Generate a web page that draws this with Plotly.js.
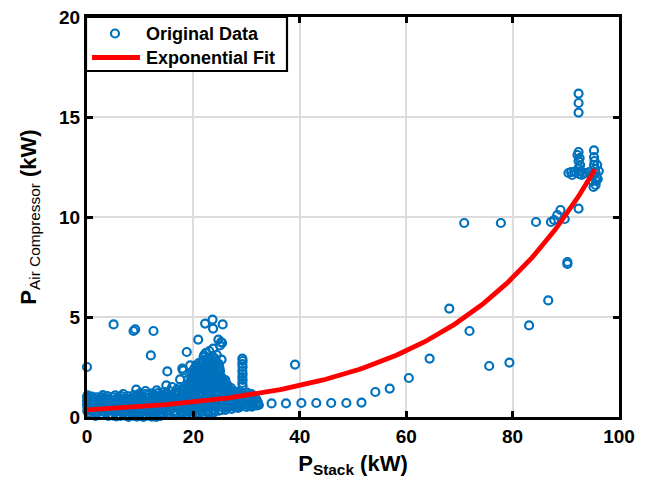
<!DOCTYPE html>
<html>
<head>
<meta charset="utf-8">
<script src="https://cdn.plot.ly/plotly-3.0.1.min.js"></script>
<style>html,body{margin:0;padding:0;background:#fff;}#chart{width:648px;height:489px;}</style>
</head>
<body>
<div id="chart"></div>
<script>
// ---- Data ----
// low band, P_Stack 0-16 kW
const lowX = [0.1,0.2,0.5,1.3,2.2,3.2,4.7,5.9,7.0,8.3,9.4,10.5,11.6,12.8,13.9,15.0,15.8,
  0.2,0.9,1.8,2.6,3.4,4.2,5.0,5.8,6.6,7.4,8.2,9.0,9.8,10.6,11.4,12.2,13.0,13.8,14.6,15.4,16.2,
  0.1,0.6,1.4,2.2,3.0,3.8,4.6,5.4,6.2,7.0,7.8,8.6,9.4,10.2,11.0,11.8,12.6,13.4,14.2,15.0,15.8,
  0.3,1.8,3.5,4.4,5.2,6.0,6.8,7.6,8.4,9.2,10.0,10.8,11.6,12.4,13.2,14.0,14.8,15.6,
  7.8,8.6,9.4,10.0,10.6,11.4,12.2,13.0,13.8,4.0,5.5,
  0,0,0,0.05,3.0,6.8,10.0,11.0,16.0];
const lowY = [1.08,0.85,0.95,0.9,0.82,0.92,1.0,1.0,0.9,0.95,1.05,0.98,1.1,1.05,1.12,1.18,1.05,
  0.65,0.7,0.62,0.72,0.66,0.74,0.68,0.75,0.7,0.78,0.72,0.8,0.74,0.82,0.76,0.84,0.8,0.88,0.85,0.9,0.88,
  0.42,0.38,0.45,0.4,0.48,0.42,0.5,0.44,0.52,0.46,0.54,0.48,0.56,0.5,0.58,0.52,0.6,0.55,0.62,0.58,0.65,
  0.2,0.18,0.2,0.15,0.22,0.14,0.2,0.12,0.18,0.1,0.16,0.12,0.2,0.15,0.22,0.2,0.28,0.3,
  0.0,-0.05,0.02,-0.1,0.0,-0.03,0.02,0.0,0.05,0.05,0.03,
  0.6,0.8,1.0,0.3,1.1,1.15,1.2,1.3,1.5];
const lowX2 = [0.6,1.5,2.4,3.3,4.2,5.1,6.0,6.9,7.8,8.7,9.6,10.5,11.4,12.3,13.2,14.1,15.0,
  0.4,1.2,2.0,2.8,3.6,4.4,5.2,6.0,6.8,7.6,8.4,9.2,10.0,10.8,11.6,12.4,13.2,14.0,14.8,15.6,
  0.9,2.0,3.0,3.9,4.8,5.7,6.6,7.5,8.4,9.3,10.2,11.1,12.0,12.9,13.8,14.7,15.5];
const lowY2 = [0.82,0.78,0.88,0.8,0.86,0.84,0.9,0.82,0.88,0.86,0.92,0.9,0.95,0.92,0.98,1.0,1.02,
  0.55,0.52,0.58,0.54,0.6,0.56,0.62,0.58,0.63,0.6,0.65,0.62,0.66,0.64,0.7,0.67,0.72,0.7,0.75,0.78,
  0.3,0.28,0.32,0.3,0.34,0.3,0.36,0.32,0.35,0.3,0.34,0.33,0.38,0.4,0.42,0.45,0.48];
const lowX3 = [0.8,1.6,2.7,4.8,6.3,7.1,8.0,8.9,9.8,10.4,11.0,11.9,12.7,13.5,14.4,15.2,
  0.9,1.8,2.7,3.8,5.3,6.4,7.6,8.8,10.0,11.1,12.3,13.4,14.5,15.5];
const lowY3 = [0.1,0.05,0.12,0.08,0.05,0.08,0.1,0.05,0.08,0.1,0.05,0.06,0.1,0.12,0.15,0.18,
  1.02,0.98,1.0,1.05,1.08,1.05,1.05,1.1,1.08,1.15,1.18,1.2,1.25,1.3];
// scattered points above the low band
const outlierX = [5.0,8.75,9.06,12.5,12.0,0,15.1,9.25,14.9,13.1,16.9,17.5,17.9,18.75];
const outlierY = [4.63,4.3,4.38,4.3,3.08,2.5,2.28,1.37,1.58,1.33,1.37,1.88,2.42,3.25];
// dense cluster, P_Stack 16-32 kW
const midX = [16.5,17.3,18.1,18.9,19.7,20.5,21.3,22.1,22.9,23.7,24.5,25.3,26.1,26.9,27.7,28.5,29.3,30.1,30.9,
  16.6,17.4,18.2,19.0,19.8,20.6,21.4,22.2,23.0,23.8,24.6,25.4,26.2,27.0,27.8,28.6,29.4,30.2,31.0,31.8,
  16.5,17.3,18.1,18.9,19.7,20.5,21.3,22.1,22.9,23.7,24.5,25.3,26.1,26.9,27.7,28.5,29.3,30.1,30.9,31.7,32.0,
  16.4,17.6,18.8,20.0,21.2,22.4,23.6,24.8,26.0,27.2,28.4,
  19.2,20.0,20.8,21.6,22.4,23.2,24.0,24.8,25.6,26.4,
  19.6,20.4,21.2,22.0,22.8,23.6,24.4,25.2,
  20.1,20.9,21.7,22.5,23.3,24.1,24.9,
  21.0,21.8,22.6,23.4,24.2,
  22.2,23.6,23.7,25.5,20.9,24.7,25.2,25.0,23.7,25.4,21.9,22.0,25.3,19.4,18.1,22.3,23.0,24.4,
  29.2,29.25,29.2,29.25,29.2,29.25,29.2,29.25,29.2,29.25,
  28.4,30.5,31.2,31.9,32.3];
const midY = [1.2,1.25,1.3,1.28,1.35,1.3,1.4,1.35,1.42,1.38,1.45,1.4,1.35,1.3,1.28,1.25,1.2,1.22,1.15,
  0.95,0.9,1.0,0.95,1.02,0.98,1.05,1.0,1.08,1.02,1.1,1.05,1.0,1.05,0.98,1.0,0.95,1.0,0.92,0.9,
  0.55,0.6,0.52,0.62,0.55,0.65,0.58,0.68,0.6,0.7,0.62,0.7,0.64,0.7,0.62,0.58,0.66,0.6,0.62,0.6,0.65,
  0.3,0.25,0.32,0.28,0.35,0.3,0.38,0.32,0.36,0.4,0.45,
  1.7,1.65,1.75,1.7,1.8,1.72,1.82,1.75,1.68,1.6,
  2.0,2.1,2.05,2.15,2.08,2.2,2.1,2.02,
  2.4,2.45,2.38,2.5,2.42,2.55,2.45,
  2.7,2.8,2.75,2.85,2.78,
  4.67,4.87,4.42,4.63,3.87,3.87,3.75,3.58,3.42,3.7,3.0,3.08,2.87,2.58,2.33,3.2,3.3,3.1,
  2.92,2.8,2.65,2.5,2.3,2.15,2.0,1.85,1.7,1.55,
  0.58,0.55,0.62,0.58,0.6];
const midX2 = [16.9,17.7,18.5,19.3,20.1,20.9,21.7,22.5,23.3,24.1,24.9,25.7,26.5,27.3,28.1,28.9,29.7,30.5,31.3,
  16.9,17.7,18.5,19.3,20.1,20.9,21.7,22.5,23.3,24.1,24.9,25.7,26.5,27.3,28.1,28.9,29.7,30.5,31.3,32.1,
  17.0,18.2,19.4,20.6,21.8,23.0,24.2,25.4,26.6,27.8,
  16.8,17.8,18.8,19.8,20.8,21.8,22.8,23.8,
  17.5,18.3,19.1,19.9,20.7,21.5,22.3,23.1,23.9,24.7,25.5,26.3,27.1,
  19.0,19.8,20.6,21.4,22.2,23.0,23.8,24.6,25.4,26.0,
  19.8,20.6,21.4,22.2,23.0,23.8,24.6,
  20.5,21.3,22.1,22.9,23.7,24.5,
  22.8,23.6,24.0];
const midY2 = [1.1,1.08,1.15,1.12,1.18,1.15,1.2,1.18,1.22,1.2,1.25,1.2,1.18,1.15,1.12,1.1,1.08,1.1,1.05,
  0.78,0.75,0.8,0.78,0.82,0.8,0.85,0.82,0.86,0.84,0.88,0.85,0.82,0.84,0.8,0.8,0.78,0.8,0.76,0.75,
  0.45,0.42,0.48,0.45,0.5,0.48,0.52,0.5,0.52,0.55,
  0.12,0.1,0.15,0.12,0.18,0.15,0.2,0.22,
  1.5,1.52,1.55,1.5,1.58,1.55,1.6,1.55,1.62,1.58,1.55,1.5,1.45,
  1.88,1.9,1.95,1.9,1.98,1.92,2.0,1.95,1.9,1.85,
  2.22,2.25,2.28,2.3,2.25,2.35,2.28,
  2.58,2.62,2.6,2.65,2.68,2.6,
  2.95,3.0,2.92];
const midX3 = [16.9,18.0,19.2,20.4,21.6,22.8,24.0,25.2,26.4,27.6,28.8,30.0,31.0,
  17.0,18.5,19.9,21.0,22.5,23.9,25.0,26.5,28.0,29.5,31.2,
  18.0,19.5,20.3,21.1,21.9,22.7,23.5,24.3,25.1,25.9,26.7,
  19.6,20.4,21.2,22.0,22.8,23.6,24.4,25.2,26.0,
  20.2,21.0,21.8,22.6,23.4,24.2,25.0,20.6,22.0,23.1,24.8,21.5,22.5,23.9];
const midY3 = [0.22,0.2,0.25,0.2,0.25,0.28,0.3,0.35,0.45,0.5,0.5,0.5,0.52,
  0.68,0.7,0.72,0.7,0.75,0.76,0.74,0.74,0.72,0.7,0.7,
  1.4,1.45,1.48,1.5,1.48,1.52,1.5,1.55,1.5,1.45,1.4,
  1.8,1.82,1.85,1.9,1.85,1.9,1.92,1.8,1.75,
  2.2,2.3,2.2,2.35,2.3,2.4,2.3,2.55,2.5,2.55,2.65,2.65,2.9,2.95];
// sparse points, P_Stack 34-92 kW
const sparseX = [34.7,37.4,40.3,43.1,45.9,48.75,51.6,39.1,54.2,56.9,60.5,64.4,68.1,71.9,70.9,75.6,77.8,79.4,83.1,84.4,86.7,87.2,87.8,88.4,89.0,89.8,90.3,90.3,92.4];
const sparseY = [0.68,0.68,0.7,0.7,0.7,0.7,0.72,2.62,1.25,1.42,1.95,2.92,5.42,4.3,9.7,2.55,9.7,2.72,4.58,9.75,5.83,9.75,9.85,10.1,10.35,9.9,7.75,7.65,10.42];
// high-power cluster, P_Stack 90-96 kW
const highX = [92.4,92.4,92.4,92.4,92.2,92.6,92.4,92.7,92.4,92.8,92.5,93.0,93.3,91.6,91.0,90.5,91.2,93.8,94.4,
  95.3,95.3,95.4,95.3,95.5,95.6,95.8,95.7,95.6,95.2,96.0,95.9,96.2,94.9,95.0];
const highY = [16.17,15.7,15.22,13.25,13.1,12.95,12.8,12.6,12.45,12.3,12.15,12.1,12.2,12.25,12.25,12.2,12.1,12.2,12.25,
  13.33,13.0,12.8,12.6,12.4,12.2,12.0,11.8,11.6,11.5,11.9,12.6,12.3,12.1,11.8];
// exponential fit  y = a*exp(b*x), drawn over P_Stack 0..95.5
const fitA = 0.355;
const fitB = 0.0372;
const fitRange = [0, 95.5];
const xTicks = [0,20,40,60,80,100];
const yTicks = [0,5,10,15,20];
const legendLabels = ['Original Data', 'Exponential Fit'];

// ---- build ----
const dataX = [].concat(lowX, lowX2, lowX3, outlierX, midX, midX2, midX3, sparseX, highX);
const dataY = [].concat(lowY, lowY2, lowY3, outlierY, midY, midY2, midY3, sparseY, highY);
const fitX = [], fitY = [];
for (let i = 0; i <= 200; i++) {
  const x = fitRange[0] + (fitRange[1] - fitRange[0]) * i / 200;
  fitX.push(x); fitY.push(fitA * Math.exp(fitB * x));
}
const F = 'Arial, "Liberation Sans", Helvetica, sans-serif';
const BLUE = '#0072BD', RED = '#FF0000';
const traces = [
  {x: dataX, y: dataY, type: 'scatter', mode: 'markers', name: legendLabels[0], cliponaxis: false,
   marker: {symbol: 'circle-open', size: 8, color: BLUE, line: {width: 2.2, color: BLUE}}},
  {x: fitX, y: fitY, type: 'scatter', mode: 'lines', name: legendLabels[1],
   line: {color: RED, width: 4.8}}
];
// legend drawn in paper coordinates (plot area: 532 x 400 px)
const PW = 532, PH = 400;
const px = v => v / PW, py = v => 1 - v / PH;
const shapes = [
  {type: 'rect', xref: 'paper', yref: 'paper', x0: px(-1), x1: px(200), y0: py(54), y1: py(0),
   fillcolor: '#fff', line: {color: '#000', width: 2.2}, layer: 'above'},
  {type: 'circle', xref: 'paper', yref: 'paper', x0: px(28 - 4), x1: px(28 + 4), y0: py(16.5 + 4), y1: py(16.5 - 4),
   line: {color: BLUE, width: 2.2}, layer: 'above'},
  {type: 'line', xref: 'paper', yref: 'paper', x0: px(5), x1: px(53), y0: py(40.5), y1: py(40.5),
   line: {color: RED, width: 4.8}, layer: 'above'}
];
const annotations = [
  {xref: 'paper', yref: 'paper', x: px(57), y: py(16.5), xanchor: 'left', yanchor: 'middle', showarrow: false,
   text: legendLabels[0], font: {family: F, size: 18, color: '#000', weight: 700}},
  {xref: 'paper', yref: 'paper', x: px(57), y: py(40.5), xanchor: 'left', yanchor: 'middle', showarrow: false,
   text: legendLabels[1], font: {family: F, size: 18, color: '#000', weight: 700}}
];
const axisCommon = {
  showline: true, linecolor: '#000', linewidth: 3, mirror: 'ticks',
  ticks: 'inside', ticklen: 6, tickwidth: 3, tickcolor: '#000',
  showgrid: true, gridcolor: '#dcdcdc', gridwidth: 2, zeroline: false,
  tickfont: {family: F, size: 19, color: '#000', weight: 700}
};
const layout = {
  width: 648, height: 489,
  margin: {l: 87, r: 29, t: 17, b: 72, pad: 0},
  paper_bgcolor: '#fff', plot_bgcolor: '#fff',
  showlegend: false,
  shapes: shapes, annotations: annotations,
  xaxis: Object.assign({}, axisCommon, {range: [0, 100], tickvals: xTicks, ticktext: xTicks.map(String),
    title: {text: 'P<sub>Stack</sub> (kW)', font: {family: F, size: 22, color: '#000', weight: 700}, standoff: 10}}),
  yaxis: Object.assign({}, axisCommon, {range: [0, 20], tickvals: yTicks, ticktext: yTicks.map(String),
    title: {text: 'P<sub><span style="font-weight:normal">Air Compressor</span></sub> (kW)', font: {family: F, size: 22, color: '#000', weight: 700}, standoff: 17}})
};
Plotly.newPlot('chart', traces, layout, {displayModeBar: false, staticPlot: true});
</script>
</body>
</html>
